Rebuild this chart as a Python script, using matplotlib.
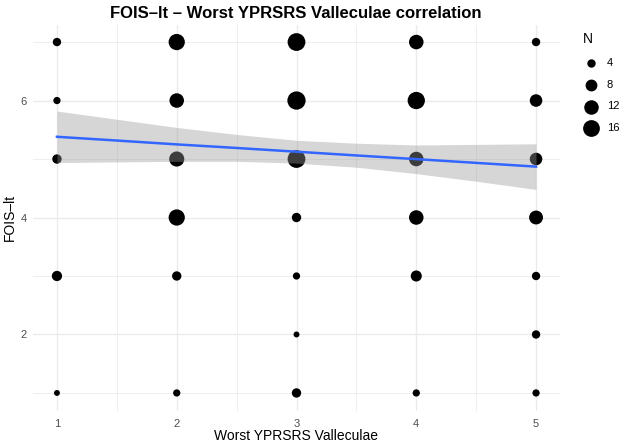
import matplotlib
matplotlib.use("Agg")
import matplotlib.pyplot as plt
import numpy as np

plt.rcParams['font.family'] = ['Liberation Sans', 'DejaVu Sans']

# Counts (N) per (Worst YPRSRS Valleculae, FOIS-lt) combination
x_vals = [1, 1, 1, 1, 1,
          2, 2, 2, 2, 2, 2,
          3, 3, 3, 3, 3, 3, 3,
          4, 4, 4, 4, 4, 4,
          5, 5, 5, 5, 5, 5, 5]
y_vals = [7, 6, 5, 3, 1,
          7, 6, 5, 4, 3, 1,
          7, 6, 5, 4, 3, 2, 1,
          7, 6, 5, 4, 3, 1,
          7, 6, 5, 4, 3, 2, 1]
counts = [4, 3, 5, 6, 2,
          15, 12, 13, 15, 5, 3,
          18, 19, 18, 5, 3, 2, 5,
          12, 17, 12, 12, 7, 3,
          4, 9, 9, 11, 4, 4, 3]

# Linear fit with 95% confidence band
fit_x = [1, 1.5, 2, 2.5, 3, 3.5, 4, 4.5, 5]
fit_y = [5.38, 5.316, 5.25, 5.189, 5.125, 5.061, 4.998, 4.934, 4.87]
fit_lo = [4.94, 4.95, 4.96, 4.96, 4.93, 4.86, 4.75, 4.62, 4.48]
fit_hi = [5.82, 5.68, 5.54, 5.42, 5.32, 5.27, 5.24, 5.25, 5.26]

legend_breaks = [4, 8, 12, 16]
x_ticks = [1, 2, 3, 4, 5]
y_ticks = [2, 4, 6]

title = "FOIS\u2013lt \u2013 Worst YPRSRS Valleculae correlation"
xlabel = "Worst YPRSRS Valleculae"
ylabel = "FOIS\u2013lt"

SIZE_K = 9.1  # marker area (pt^2) per count

W, H = 624, 445
fig = plt.figure(figsize=(W / 100, H / 100), dpi=100)
ax = fig.add_axes([33 / W, 1 - 410.5 / H, (560 - 33) / W, (410.5 - 24.5) / H])

ax.set_xlim(0.8, 5.2)
ax.set_ylim(0.7, 7.3)
ax.set_xticks(x_ticks)
ax.set_yticks(y_ticks)
ax.set_xticks([1.5, 2.5, 3.5, 4.5], minor=True)
ax.set_yticks([1, 3, 5, 7], minor=True)
ax.grid(True, which='major', color='#ebebeb', linewidth=1.0)
ax.grid(True, which='minor', color='#ebebeb', linewidth=0.6)
ax.set_axisbelow(True)
for s in ax.spines.values():
    s.set_visible(False)
ax.tick_params(which='both', length=0)
ax.tick_params(axis='x', pad=6, labelsize=8, labelcolor='#4d4d4d')
ax.tick_params(axis='y', pad=4.5, labelsize=8, labelcolor='#4d4d4d')

ax.scatter(x_vals, y_vals, s=[SIZE_K * c for c in counts], color='black',
           linewidths=0, zorder=2)
ax.fill_between(fit_x, fit_lo, fit_hi, color='#999999', alpha=0.4,
                linewidth=0, zorder=3)
ax.plot(fit_x, fit_y, color='#3366FF', linewidth=1.8, zorder=4)

fig.text(296 / W, 1 - 13 / H, title, ha='center', va='center',
         fontsize=12, fontweight='bold', color='black')
fig.text(296 / W, 1 - 436 / H, xlabel, ha='center', va='center',
         fontsize=10, color='black')
fig.text(10 / W, 1 - 217.5 / H, ylabel, ha='center', va='center',
         rotation=90, fontsize=10, color='black')

handles = [ax.scatter([], [], s=SIZE_K * b, color='black', linewidths=0)
           for b in legend_breaks]
leg = fig.legend(handles, [str(b) for b in legend_breaks], title='N',
                 loc='upper left', bbox_to_anchor=(578 / W, 1 - 28 / H),
                 frameon=False, fontsize=8, title_fontsize=10,
                 alignment='left', labelspacing=1.05, handletextpad=0.7,
                 borderaxespad=0, handlelength=1.5)

fig.savefig('out.png', dpi=100)
